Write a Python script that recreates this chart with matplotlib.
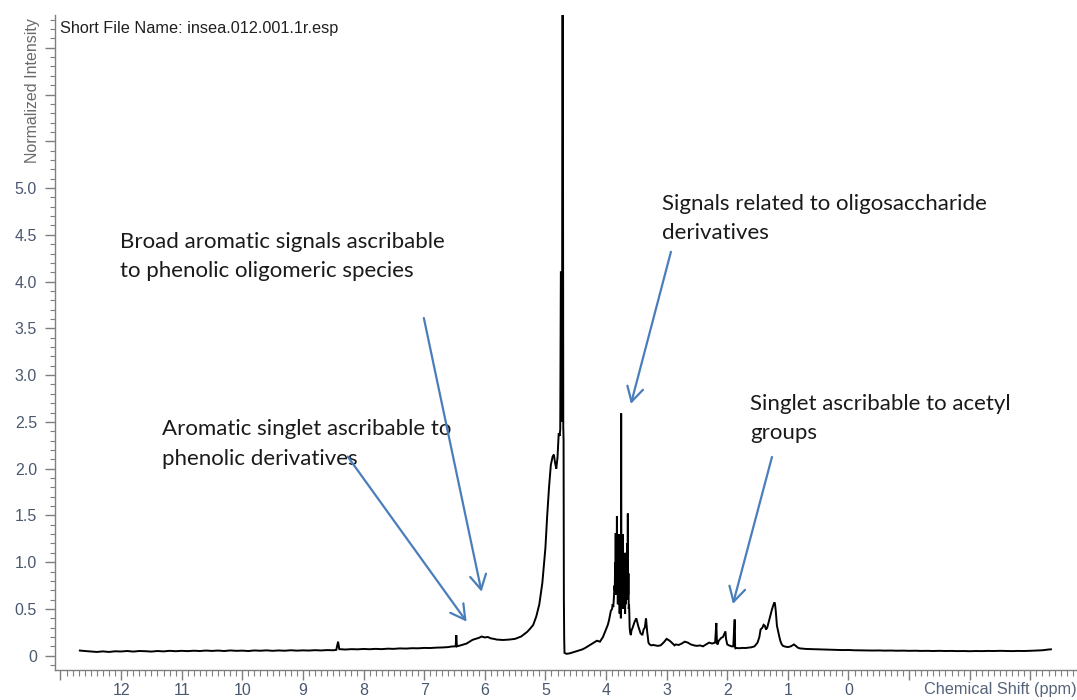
import matplotlib
matplotlib.use("Agg")
import matplotlib.pyplot as plt
from matplotlib.ticker import MultipleLocator, FixedLocator
from matplotlib.transforms import Bbox, TransformedBbox

# ---------------- data, (ppm, normalized intensity) ----------------
region_baseline_left = [
    (12.68, 0.055), (12.6, 0.050), (12.5, 0.045), (12.4, 0.040), (12.3, 0.046), (12.2, 0.040),
    (12.1, 0.047), (12.0, 0.045), (11.9, 0.050), (11.8, 0.044), (11.7, 0.050), (11.6, 0.048),
    (11.5, 0.044), (11.4, 0.050), (11.3, 0.046), (11.2, 0.052), (11.1, 0.048), (11.0, 0.052),
    (10.9, 0.049), (10.8, 0.053), (10.7, 0.050), (10.6, 0.055), (10.5, 0.051), (10.4, 0.055),
    (10.3, 0.050), (10.2, 0.056), (10.1, 0.052), (10.0, 0.054), (9.9, 0.050), (9.8, 0.056),
    (9.7, 0.053), (9.6, 0.057), (9.5, 0.052), (9.4, 0.056), (9.3, 0.053), (9.2, 0.058),
    (9.1, 0.054), (9.0, 0.057), (8.9, 0.055), (8.8, 0.059), (8.7, 0.056), (8.6, 0.060),
    (8.5, 0.058), (8.45, 0.062), (8.42, 0.150), (8.40, 0.070), (8.3, 0.066), (8.2, 0.070),
    (8.1, 0.068), (8.0, 0.072), (7.9, 0.069), (7.8, 0.073), (7.7, 0.070), (7.6, 0.075),
    (7.5, 0.073), (7.4, 0.078), (7.3, 0.076), (7.2, 0.080), (7.1, 0.079), (7.0, 0.083),
    (6.9, 0.082), (6.8, 0.086), (6.7, 0.088), (6.6, 0.092), (6.55, 0.098), (6.48, 0.100),
    (6.47, 0.220), (6.46, 0.100),
]
region_aromatic_hump = [
    (6.4, 0.110), (6.35, 0.120), (6.3, 0.130), (6.25, 0.150), (6.2, 0.170), (6.15, 0.180),
    (6.1, 0.190), (6.05, 0.205), (6.0, 0.195), (5.95, 0.200), (5.9, 0.185), (5.85, 0.180),
    (5.8, 0.172), (5.7, 0.168), (5.6, 0.172), (5.5, 0.180), (5.4, 0.205), (5.3, 0.255),
    (5.25, 0.290), (5.2, 0.330), (5.15, 0.420), (5.10, 0.550),
]
region_water = [
    (5.05, 0.780), (5.00, 1.150), (4.97, 1.500), (4.94, 1.800), (4.91, 2.040), (4.88, 2.130),
    (4.86, 2.150), (4.84, 2.060), (4.82, 2.000), (4.80, 2.120), (4.78, 2.380), (4.765, 2.350),
    (4.755, 2.420), (4.745, 4.100), (4.735, 4.100), (4.725, 2.500), (4.72, 6.950),
    (4.712, 6.950), (4.705, 2.450), (4.70, 2.300), (4.695, 0.600), (4.69, 0.200),
    (4.685, 0.030), (4.65, 0.020), (4.6, 0.025), (4.55, 0.035), (4.5, 0.045), (4.45, 0.055),
    (4.4, 0.065), (4.35, 0.080), (4.3, 0.100), (4.25, 0.120), (4.2, 0.140), (4.15, 0.160),
    (4.1, 0.150), (4.05, 0.200),
]
region_sugars = [
    (4.0, 0.280), (3.97, 0.330), (3.95, 0.380), (3.92, 0.480), (3.90, 0.500), (3.89, 0.550),
    (3.88, 0.520), (3.87, 0.620), (3.86, 0.750), (3.855, 0.700), (3.85, 1.000), (3.845, 0.800),
    (3.84, 1.310), (3.835, 0.650), (3.83, 1.100), (3.825, 0.900), (3.82, 1.490), (3.815, 0.700),
    (3.81, 1.200), (3.805, 0.550), (3.80, 1.050), (3.795, 0.850), (3.79, 1.300), (3.785, 0.600),
    (3.78, 1.100), (3.775, 0.450), (3.77, 0.950), (3.765, 0.700), (3.76, 1.000), (3.755, 0.400),
    (3.75, 2.590), (3.745, 0.500), (3.74, 1.150), (3.735, 0.600), (3.73, 1.240), (3.725, 0.700),
    (3.72, 1.300), (3.715, 0.650), (3.71, 1.100), (3.705, 0.500), (3.70, 1.000), (3.695, 0.600),
    (3.69, 0.900), (3.685, 0.450), (3.68, 0.850), (3.675, 0.550), (3.67, 1.100), (3.665, 0.650),
    (3.66, 0.950), (3.655, 0.600), (3.65, 1.200), (3.645, 0.700), (3.64, 1.520), (3.635, 0.650),
    (3.63, 0.880), (3.625, 0.500), (3.62, 0.550), (3.615, 0.450), (3.61, 0.300), (3.60, 0.240),
    (3.59, 0.220), (3.58, 0.270), (3.56, 0.300), (3.53, 0.360), (3.50, 0.400), (3.47, 0.320),
    (3.45, 0.280), (3.43, 0.240), (3.40, 0.220), (3.38, 0.280), (3.36, 0.300), (3.34, 0.400),
    (3.32, 0.250), (3.31, 0.200), (3.30, 0.140), (3.28, 0.120), (3.25, 0.110), (3.22, 0.115),
]
region_aliphatic = [
    (3.15, 0.105), (3.1, 0.110), (3.05, 0.140), (3.0, 0.180), (2.95, 0.160), (2.9, 0.130),
    (2.87, 0.110), (2.85, 0.120), (2.8, 0.115), (2.75, 0.130), (2.7, 0.150), (2.65, 0.140),
    (2.6, 0.120), (2.57, 0.115), (2.55, 0.110), (2.5, 0.105), (2.45, 0.110), (2.4, 0.100),
    (2.35, 0.120), (2.3, 0.140), (2.25, 0.130), (2.2, 0.140), (2.18, 0.350), (2.17, 0.140),
    (2.16, 0.120), (2.14, 0.160), (2.1, 0.190), (2.07, 0.200), (2.05, 0.230), (2.03, 0.260),
    (2.02, 0.180), (2.01, 0.150), (2.0, 0.120), (1.97, 0.110), (1.93, 0.100), (1.90, 0.100),
    (1.88, 0.380), (1.875, 0.380), (1.87, 0.090), (1.865, 0.080), (1.86, 0.082), (1.8, 0.080),
    (1.75, 0.083), (1.7, 0.082), (1.65, 0.086), (1.6, 0.090), (1.55, 0.100), (1.5, 0.140),
    (1.47, 0.200), (1.45, 0.280), (1.42, 0.300), (1.40, 0.330), (1.38, 0.320), (1.36, 0.280),
    (1.34, 0.300), (1.32, 0.350), (1.30, 0.400), (1.28, 0.450), (1.26, 0.500), (1.24, 0.540),
    (1.22, 0.570), (1.21, 0.540), (1.20, 0.480), (1.19, 0.400), (1.18, 0.320), (1.16, 0.260),
    (1.14, 0.200), (1.12, 0.150), (1.10, 0.120), (1.08, 0.105), (1.05, 0.098), (1.02, 0.095),
    (1.0, 0.092), (0.95, 0.100), (0.9, 0.120), (0.86, 0.100), (0.84, 0.088), (0.82, 0.082),
    (0.8, 0.078), (0.75, 0.075), (0.7, 0.072),
]
region_baseline_right = [
    (0.6, 0.070), (0.5, 0.068), (0.4, 0.066), (0.3, 0.065), (0.2, 0.062), (0.1, 0.060),
    (0.0, 0.061), (-0.1, 0.058), (-0.2, 0.057), (-0.3, 0.056), (-0.4, 0.055), (-0.5, 0.056),
    (-0.6, 0.054), (-0.7, 0.055), (-0.8, 0.053), (-0.9, 0.054), (-1.0, 0.052), (-1.1, 0.053),
    (-1.2, 0.051), (-1.3, 0.052), (-1.4, 0.050), (-1.5, 0.052), (-1.6, 0.050), (-1.7, 0.051),
    (-1.8, 0.049), (-1.9, 0.050), (-2.0, 0.048), (-2.1, 0.050), (-2.2, 0.049), (-2.3, 0.051),
    (-2.4, 0.050), (-2.5, 0.052), (-2.6, 0.050), (-2.7, 0.049), (-2.8, 0.051), (-2.9, 0.050),
    (-3.0, 0.052), (-3.1, 0.055), (-3.2, 0.058), (-3.25, 0.062), (-3.3, 0.066), (-3.34, 0.068),
]

x_tick_values = list(range(13, -4, -1))
x_tick_labels = ["", "12", "11", "10", "9", "8", "7", "6", "5", "4", "3", "2", "1", "0", "", "", ""]
y_tick_values = [0.0, 0.5, 1.0, 1.5, 2.0, 2.5, 3.0, 3.5, 4.0, 4.5, 5.0, 5.5, 6.0, 6.5]
y_tick_labels = ["0", "0.5", "1.0", "1.5", "2.0", "2.5", "3.0", "3.5", "4.0", "4.5", "5.0", "", "", ""]

annotation_texts = [
    "Aromatic singlet ascribable to\nphenolic derivatives",
    "Broad aromatic signals ascribable\nto phenolic oligomeric species",
    "Signals related to oligosaccharide\nderivatives",
    "Singlet ascribable to acetyl\ngroups",
]

spectrum = (region_baseline_left + region_aromatic_hump + region_water + region_sugars
            + region_aliphatic + region_baseline_right)
ppm = [p for p, _ in spectrum]
intensity = [v for _, v in spectrum]

# ---------------- figure ----------------
W, H = 1077, 700
fig = plt.figure(figsize=(W / 100, H / 100), dpi=100)
ax = fig.add_axes([55 / W, 1 - 670 / H, 1 - 55 / W, (670 - 15) / H])

ax.plot(ppm, intensity, color="black", lw=1.4, solid_joinstyle="miter")
ax.set_xlim(13.09, -3.77)
ax.set_ylim(-0.153, 6.85)

for s in ["top", "right"]:
    ax.spines[s].set_visible(False)
for s in ["left", "bottom"]:
    ax.spines[s].set_color("#7f7f7f")
    ax.spines[s].set_linewidth(1.0)

tick_color = "#4a5870"
ax.xaxis.set_major_locator(FixedLocator(x_tick_values))
ax.set_xticklabels(x_tick_labels)
ax.xaxis.set_minor_locator(MultipleLocator(0.1))
ax.yaxis.set_major_locator(FixedLocator(y_tick_values))
ax.set_yticklabels(y_tick_labels)
ax.yaxis.set_minor_locator(MultipleLocator(0.1))

ax.tick_params(axis="x", which="major", direction="out", length=7, width=1, color="#7f7f7f",
               labelsize=11.5, labelcolor=tick_color, pad=2.5)
ax.tick_params(axis="x", which="minor", direction="out", length=4.5, width=0.8, color="#7f7f7f")
ax.tick_params(axis="y", which="major", direction="out", length=7, width=1, color="#7f7f7f",
               labelsize=11.5, labelcolor=tick_color, pad=6)
ax.tick_params(axis="y", which="minor", direction="out", length=3.5, width=0.8, color="#7f7f7f")
for lab in ax.get_xticklabels() + ax.get_yticklabels():
    lab.set_fontfamily("Liberation Sans")

# axis titles
ax.text(1.0, -0.0295, "Chemical Shift (ppm)", transform=ax.transAxes, ha="right", va="center",
        fontsize=11.7, color="#56647a", family="Liberation Sans")
yl = fig.text(33 / W, 1 - 163 / H, "Normalized Intensity", rotation=90, ha="center", va="bottom",
              fontsize=11.5, color="#6a6a6a", family="Liberation Sans")
yl.set_clip_box(TransformedBbox(Bbox([[0, 0], [0.1, 1 - 14 / H]]), fig.transFigure))
yl.set_clip_on(True)

fig.text(60 / W, 1 - 28.5 / H, "Short File Name: insea.012.001.1r.esp", ha="left", va="center",
         fontsize=11.7, color="#202020", family="Liberation Sans")

# annotations
arrow_color = "#4a7ebb"
text_pos = [(11.317, 2.53), (12.02, 4.535), (3.083, 4.94), (1.625, 2.80)]
arrow_tail = [(8.26, 2.128), (7.005, 3.61), (2.929, 4.318), (1.262, 2.125)]
arrow_head = [(6.30, 0.364), (6.053, 0.684), (3.589, 2.692), (1.906, 0.553)]
for txt, tp, tail, head in zip(annotation_texts, text_pos, arrow_tail, arrow_head):
    ax.text(tp[0], tp[1], txt, ha="left", va="top", fontsize=16, family="Lato",
            color="#1a1a1a", linespacing=1.6)
    ax.annotate("", xy=head, xytext=tail,
                arrowprops=dict(arrowstyle="->,head_length=0.52,head_width=0.29",
                                color=arrow_color, lw=1.6, shrinkA=0, shrinkB=0,
                                mutation_scale=20))

fig.savefig("out.png", dpi=100)
